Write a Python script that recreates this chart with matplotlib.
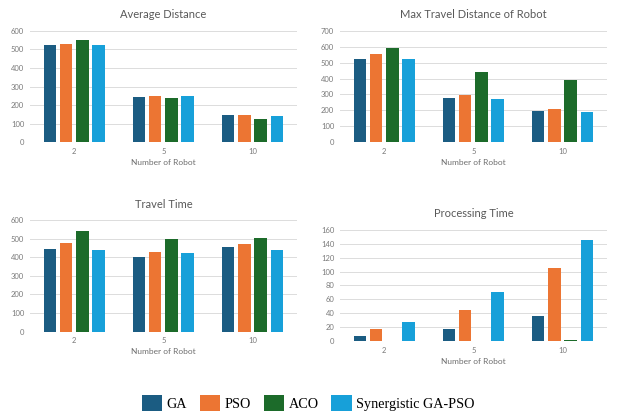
import matplotlib
matplotlib.use("Agg")
import matplotlib.pyplot as plt
import numpy as np
from matplotlib.patches import Patch

categories = ["2", "5", "10"]
series_names = ["GA", "PSO", "ACO", "Synergistic GA-PSO"]
colors = ["#1b5c82", "#ec7533", "#1c6b2a", "#17a0d9"]

avg_distance = {
    "GA": [522, 242, 148],
    "PSO": [528, 248, 145],
    "ACO": [551, 239, 123],
    "Synergistic GA-PSO": [522, 250, 139],
}
max_travel = {
    "GA": [525, 278, 194],
    "PSO": [553, 295, 209],
    "ACO": [595, 441, 394],
    "Synergistic GA-PSO": [525, 272, 192],
}
travel_time = {
    "GA": [444, 403, 455],
    "PSO": [475, 430, 470],
    "ACO": [540, 500, 505],
    "Synergistic GA-PSO": [441, 421, 439],
}
processing_time = {
    "GA": [8, 17, 36],
    "PSO": [17, 45, 105],
    "ACO": [0.3, 0.3, 2],
    "Synergistic GA-PSO": [27, 71, 146],
}

panels = [
    ("Average Distance", avg_distance, 600, 100, [0.048, 0.660, 0.431, 0.266]),
    ("Max Travel Distance of Robot", max_travel, 700, 100, [0.548, 0.660, 0.431, 0.266]),
    ("Travel Time", travel_time, 600, 100, [0.048, 0.2065, 0.431, 0.267]),
    ("Processing Time", processing_time, 160, 20, [0.548, 0.184, 0.431, 0.266]),
]

text_color = "#7a7a7a"
grid_color = "#dcdcdc"
plt.rcParams["font.family"] = ["Lato", "DejaVu Sans"]

fig = plt.figure(figsize=(6.2, 4.18), dpi=100)
fig.patch.set_facecolor("white")

x = np.arange(len(categories))
width = 0.14
step = 0.182

for title, data, ymax, ystep, rect in panels:
    ax = fig.add_axes(rect)
    for i, name in enumerate(series_names):
        offs = (i - 1.5) * step
        ax.bar(x + offs, data[name], width=width, color=colors[i], zorder=3)
    ax.set_xlim(-0.5, 2.5)
    ax.set_ylim(0, ymax)
    ax.set_yticks(np.arange(0, ymax + 1, ystep))
    ax.set_xticks(x)
    ax.set_xticklabels(categories)
    ax.grid(axis="y", color=grid_color, linewidth=0.7, zorder=0)
    for s in ax.spines.values():
        s.set_visible(False)
    ax.tick_params(axis="both", length=0, labelsize=5.5, colors=text_color, pad=4)
    ax.set_xlabel("Number of Robot", fontsize=6, color="#6e6e6e", labelpad=3)
    ax.set_title(title, fontsize=8, color="#595959", pad=9)

handles = [Patch(facecolor=c, edgecolor="none") for c in colors]
fig.legend(handles, series_names, loc="center", bbox_to_anchor=(0.497, 0.036),
           ncol=4, frameon=False, handlelength=1.45, handleheight=1.4,
           handletextpad=0.3, columnspacing=0.9,
           prop={"family": "Liberation Serif", "size": 10.2})

fig.savefig("out.png", dpi=100, facecolor="white")
